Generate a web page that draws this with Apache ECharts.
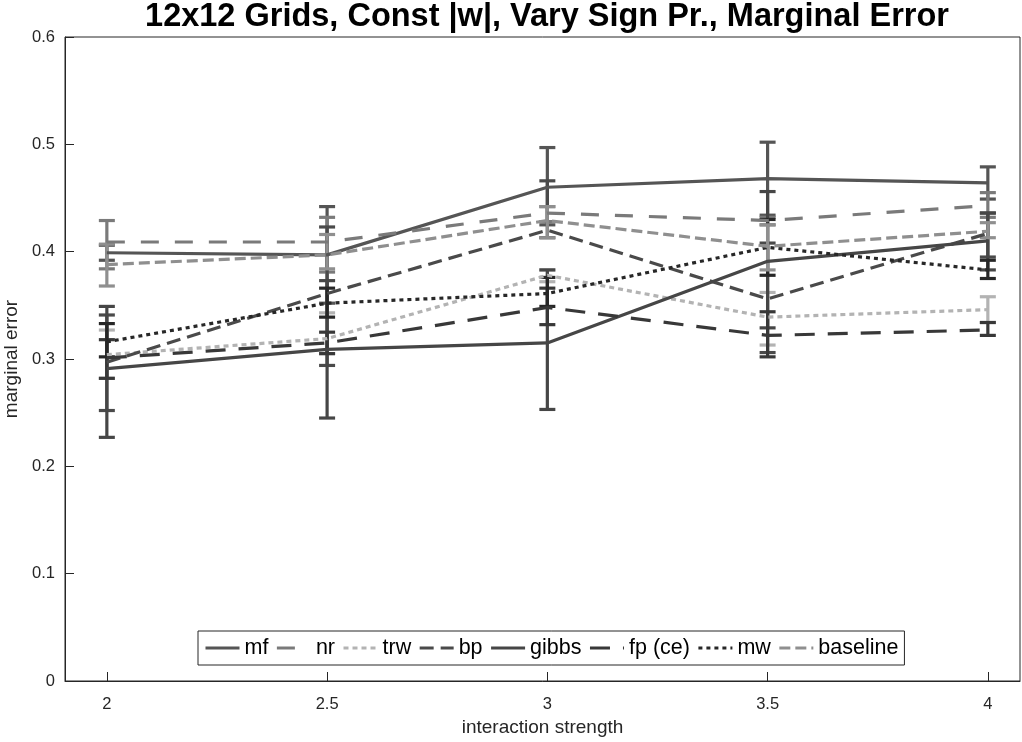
<!DOCTYPE html>
<html>
<head>
<meta charset="utf-8">
<script src="https://cdn.jsdelivr.net/npm/echarts@6/dist/echarts.min.js"></script>
<style>
	html, body { margin: 0; padding: 0; background: #fff; }
	#chart { width: 1022px; height: 742px; }
</style>
</head>
<body>
<div id="chart"></div>
<script>
// interaction strength values
const strengths = [2, 2.5, 3, 3.5, 4];
const xTicks = [2, 2.5, 3, 3.5, 4];

// mean marginal error per method
const mfVals       = [0.399, 0.397, 0.460, 0.468, 0.464];
const nrVals       = [0.409, 0.409, 0.436, 0.429, 0.443];
const trwVals      = [0.304, 0.319, 0.378, 0.339, 0.346];
const bpVals       = [0.297, 0.361, 0.420, 0.356, 0.417];
const gibbsVals    = [0.291, 0.309, 0.315, 0.391, 0.410];
const fpVals       = [0.301, 0.315, 0.348, 0.322, 0.327];
const mwVals       = [0.316, 0.352, 0.361, 0.404, 0.383];
const baselineVals = [0.388, 0.397, 0.429, 0.405, 0.419];

// error bar bounds [low, high]
const mfErr       = [[0.392, 0.406], [0.352, 0.442], [0.425, 0.497], [0.434, 0.502], [0.449, 0.479]];
const nrErr       = [[0.384, 0.429], [0.381, 0.432], [0.428, 0.442], [0.425, 0.432], [0.432, 0.455]];
const trwErr      = [[0.282, 0.327], [0.305, 0.343], [0.372, 0.383], [0.313, 0.362], [0.334, 0.358]];
const bpErr       = [[0.252, 0.341], [0.294, 0.423], [0.413, 0.466], [0.306, 0.408], [0.395, 0.436]];
const gibbsErr    = [[0.227, 0.349], [0.245, 0.373], [0.253, 0.383], [0.329, 0.456], [0.383, 0.436]];
const fpErr       = [[0.282, 0.318], [0.305, 0.325], [0.332, 0.366], [0.302, 0.344], [0.322, 0.334]];
const mwErr       = [[0.302, 0.333], [0.339, 0.366], [0.349, 0.376], [0.378, 0.430], [0.375, 0.392]];
const baselineErr = [[0.368, 0.407], [0.384, 0.416], [0.413, 0.442], [0.383, 0.425], [0.413, 0.427]];

const methods = ['mf', 'nr', 'trw', 'bp', 'gibbs', 'fp (ce)', 'mw', 'baseline'];

let myChart = echarts.init(document.getElementById('chart'));

let lineSeries = function(name, vals, errs, color, dash) {
	let pts = strengths.map((x, i) => [x, vals[i]]);
	let bars = strengths.map((x, i) => [x, errs[i][0], errs[i][1]]);
	return [
		{
			name: name,
			type: 'line',
			data: pts,
			symbol: 'none',
			animation: false,
			lineStyle: { color: color, width: 3.2, type: dash },
			itemStyle: { color: color },
			z: 3
		},
		{
			name: name + '_err',
			type: 'custom',
			data: bars,
			animation: false,
			encode: { x: 0, y: [1, 2] },
			z: 2,
			renderItem: function(params, api) {
				let lo = api.coord([api.value(0), api.value(1)]);
				let hi = api.coord([api.value(0), api.value(2)]);
				let hw = 8;
				let st = { stroke: color, lineWidth: 3.2 };
				return {
					type: 'group',
					children: [
						{ type: 'line', shape: { x1: lo[0], y1: lo[1], x2: hi[0], y2: hi[1] }, style: st },
						{ type: 'line', shape: { x1: lo[0] - hw, y1: lo[1], x2: lo[0] + hw, y2: lo[1] }, style: st },
						{ type: 'line', shape: { x1: hi[0] - hw, y1: hi[1], x2: hi[0] + hw, y2: hi[1] }, style: st }
					]
				};
			}
		}
	];
};

let series = [].concat(
	lineSeries('mf', mfVals, mfErr, '#555555', 'solid'),
	lineSeries('nr', nrVals, nrErr, '#7a7a7a', [18, 16]),
	lineSeries('trw', trwVals, trwErr, '#b3b3b3', [5, 4]),
	lineSeries('bp', bpVals, bpErr, '#4a4a4a', [14, 7]),
	lineSeries('gibbs', gibbsVals, gibbsErr, '#464646', 'solid'),
	lineSeries('fp (ce)', fpVals, fpErr, '#383838', [20, 13]),
	lineSeries('mw', mwVals, mwErr, '#272727', [4, 4]),
	lineSeries('baseline', baselineVals, baselineErr, '#8f8f8f', [11, 5])
);

let option = {
	animation: false,
	title: {
		text: '12x12 Grids, Const |w|, Vary Sign Pr., Marginal Error',
		left: 542,
		textAlign: 'center',
		top: -4,
		textStyle: {
			fontFamily: '"Liberation Sans", Arial, sans-serif',
			fontSize: 32.5,
			fontWeight: 'bold',
			color: '#000'
		}
	},
	grid: {
		left: 65,
		right: 2,
		top: 37,
		bottom: 61,
		outerBoundsMode: 'none',
		containLabel: false,
		show: true,
		borderColor: '#262626',
		borderWidth: 1
	},
	legend: {
		data: methods,
		left: 198,
		bottom: 77,
		orient: 'horizontal',
		itemWidth: 34,
		itemHeight: 12,
		itemGap: 7,
		padding: [6, 6, 6, 6],
		borderColor: '#262626',
		borderWidth: 1,
		backgroundColor: '#fff',
		itemStyle: { opacity: 0 },
		lineStyle: { width: 3 },
		textStyle: {
			fontFamily: '"Liberation Sans", Arial, sans-serif',
			fontSize: 21.5,
			color: '#000'
		}
	},
	xAxis: {
		type: 'value',
		min: 1.905,
		max: 4.073,
		name: 'interaction strength',
		nameLocation: 'middle',
		nameGap: 36,
		nameTextStyle: {
			fontFamily: '"Liberation Sans", Arial, sans-serif',
			fontSize: 19,
			color: '#262626'
		},
		axisLine: { lineStyle: { color: '#262626' } },
		axisTick: { inside: true, length: 9, customValues: xTicks, lineStyle: { color: '#262626' } },
		axisLabel: {
			customValues: xTicks,
			margin: 15,
			fontFamily: '"Liberation Sans", Arial, sans-serif',
			fontSize: 16.5,
			color: '#262626'
		},
		splitLine: { show: false }
	},
	yAxis: {
		type: 'value',
		min: 0,
		max: 0.6,
		interval: 0.1,
		name: 'marginal error',
		nameLocation: 'middle',
		nameGap: 40,
		nameTextStyle: {
			fontFamily: '"Liberation Sans", Arial, sans-serif',
			fontSize: 19,
			color: '#262626'
		},
		axisLine: { show: true, lineStyle: { color: '#262626' } },
		axisTick: { show: true, inside: true, length: 9, lineStyle: { color: '#262626' } },
		axisLabel: {
			margin: 10,
			fontFamily: '"Liberation Sans", Arial, sans-serif',
			fontSize: 16.5,
			color: '#262626',
			formatter: function(v) { return String(Math.round(v * 10) / 10); }
		},
		splitLine: { show: false }
	},
	series: series
};

option && myChart.setOption(option);
</script>
</body>
</html>
